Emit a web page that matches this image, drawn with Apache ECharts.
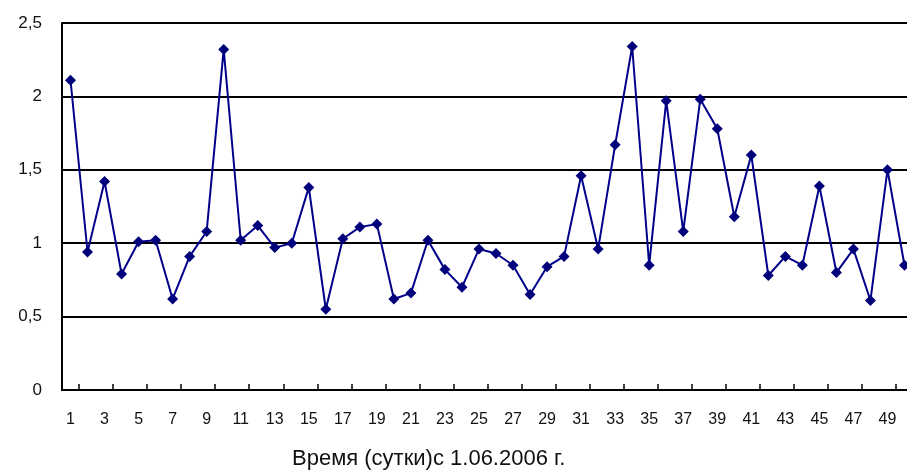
<!DOCTYPE html>
<html>
<head>
<meta charset="utf-8">
<script src="https://cdn.jsdelivr.net/npm/echarts@6/dist/echarts.min.js"></script>
<style>html,body{margin:0;padding:0;background:#fff;overflow:hidden;}#c{width:930px;height:470px;}</style>
</head>
<body>
<div id="c"></div>
<script>
const days = [];
for (let d = 1; d <= 50; d++) days.push(String(d));
const values = [2.11, 0.94, 1.42, 0.79, 1.01, 1.02, 0.62, 0.91, 1.08, 2.32,
                1.02, 1.12, 0.97, 1.00, 1.38, 0.55, 1.03, 1.11, 1.13, 0.62,
                0.66, 1.02, 0.82, 0.70, 0.96, 0.93, 0.85, 0.65, 0.84, 0.91,
                1.46, 0.96, 1.67, 2.34, 0.85, 1.97, 1.08, 1.98, 1.78, 1.18,
                1.60, 0.78, 0.91, 0.85, 1.39, 0.80, 0.96, 0.61, 1.50, 0.85];
const yTicks = [0, 0.5, 1, 1.5, 2, 2.5];
const xTitle = 'Время (сутки)с 1.06.2006 г.';

const chart = echarts.init(document.getElementById('c'));
chart.setOption({
  animation: false,
  backgroundColor: '#fff',
  title: {
    text: xTitle, left: 287, top: 443,
    textStyle: { fontFamily: 'Liberation Sans, Arial', fontSize: 22, fontWeight: 'normal', color: '#111' }
  },
  grid: { left: 62, top: 23, width: 851, height: 367, containLabel: false },
  xAxis: {
    type: 'category', data: days, boundaryGap: true,
    axisLine: { lineStyle: { color: '#000', width: 2 } },
    axisTick: { show: true, inside: true, length: 6, lineStyle: { color: '#000', width: 1.5 },
      interval: function (i) { return i % 2 === 1; } },
    axisLabel: { interval: 1, margin: 22, fontFamily: 'Liberation Sans, Arial', fontSize: 16, color: '#111' },
    splitLine: { show: false }
  },
  yAxis: {
    type: 'value', min: 0, max: 2.5, interval: 0.5,
    axisLine: { show: true, lineStyle: { color: '#000', width: 2 } },
    axisTick: { show: false },
    axisLabel: { margin: 20, fontFamily: 'Liberation Sans, Arial', fontSize: 17, color: '#111',
      formatter: function (v) { return String(v).replace('.', ','); } },
    splitLine: { show: true, lineStyle: { color: '#000', width: 2 } }
  },
  series: [{
    type: 'line', data: values,
    symbol: 'diamond', symbolSize: 11,
    lineStyle: { color: '#00008b', width: 2 },
    itemStyle: { color: '#00007a' }
  }]
});
</script>
</body>
</html>
